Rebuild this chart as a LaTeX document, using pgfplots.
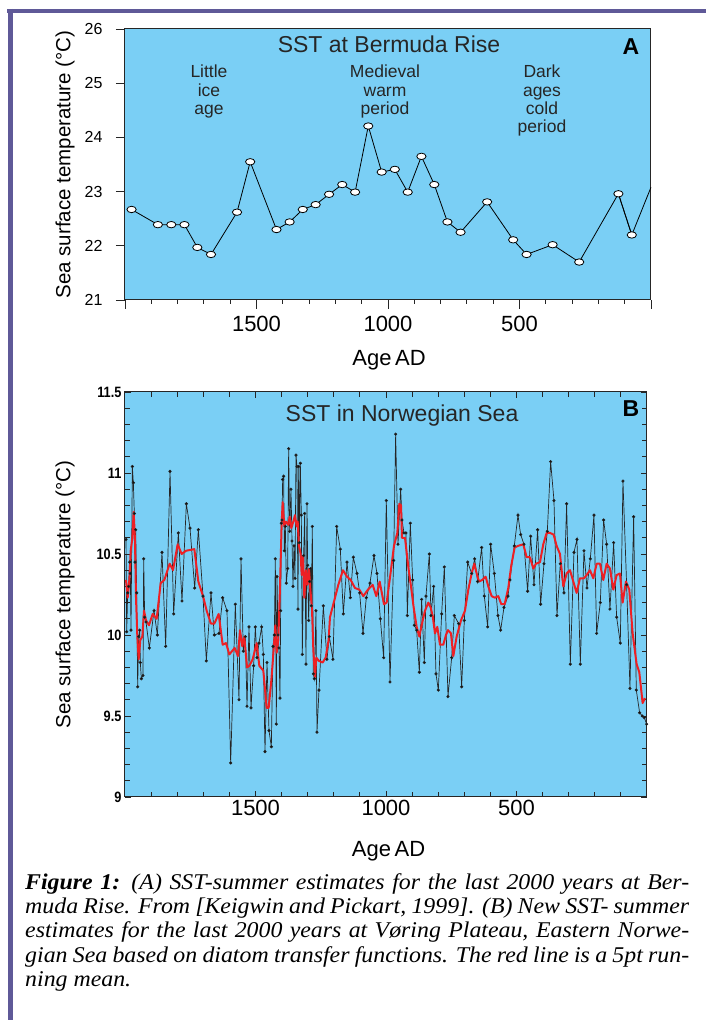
\documentclass[border=0pt]{standalone}
\usepackage{pgfplots}
\pgfplotsset{compat=1.18}
\usepackage{fontspec}
\setmainfont{Liberation Sans}
\newfontfamily\capfont[FakeStretch=1.06]{Liberation Serif}
\newfontfamily\condfont[FakeStretch=0.85]{Liberation Sans}
\definecolor{skyblue}{RGB}{122,207,245}
\definecolor{framepurple}{RGB}{95,89,152}
\definecolor{runred}{RGB}{237,32,36}
\pgfplotsset{/pgf/number format/assume math mode=true, /pgf/number format/1000 sep={}}

\pgfplotstableread{
year sst
1975 22.67
1875 22.39
1824 22.39
1774 22.39
1725 21.97
1673 21.84
1574 22.62
1524 23.55
1424 22.30
1374 22.44
1324 22.67
1275 22.76
1224 22.95
1174 23.13
1125 22.99
1075 24.21
1024 23.36
974 23.41
925 22.99
873 23.65
824 23.13
774 22.44
724 22.25
623 22.81
524 22.11
473 21.84
374 22.02
273 21.70
124 22.96
73 22.20
}\bermuda

\pgfplotstableread{
year sst
1996 10.59
1993.5 10.02
1989.7 10.26
1985.9 10.30
1982.0 10.45
1979.5 10.38
1976.9 10.03
1971.8 11.04
1968.0 10.94
1964.2 10.75
1961.6 10.45
1959.1 10.65
1955.2 10.26
1951.4 9.68
1947.6 9.99
1943.7 10.03
1941.2 9.83
1937.4 9.73
1931.0 9.75
1928.4 10.47
1924.6 10.11
1919.5 10.08
1906.7 9.92
1888.8 10.15
1876.1 10.00
1858.2 10.51
1844.1 9.93
1827.5 11.01
1813.5 10.13
1795.6 10.63
1781.6 10.21
1764.9 10.81
1750.9 10.66
1733.0 10.29
1719.0 10.65
1701.1 10.24
1688.3 9.84
1670.5 10.26
1657.7 10.00
1639.8 10.01
1625.8 10.23
1609.2 10.15
1595.1 9.21
1577.3 10.19
1563.2 9.60
1555.5 10.47
1546.6 9.90
1538.9 9.99
1532.5 9.56
1524.9 10.05
1517.2 9.55
1507.0 9.81
1500.6 10.05
1494.3 9.86
1486.6 9.95
1476.4 10.05
1470.0 9.88
1463.6 9.28
1455.9 9.83
1448.3 9.41
1439.3 9.31
1433.0 9.93
1427.8 10.00
1424.0 10.47
1420.2 9.45
1417.6 10.36
1413.8 10.00
1410.0 9.92
1406.1 9.61
1403.6 10.15
1401.0 10.69
1398.5 10.71
1395.9 10.96
1392.1 10.98
1389.5 10.52
1385.7 10.67
1381.9 10.32
1376.7 10.41
1372.9 11.15
1369.1 10.64
1364.0 10.90
1360.1 10.58
1356.3 10.30
1352.5 10.55
1348.6 10.35
1344.8 11.11
1341.0 11.04
1337.2 10.16
1334.6 11.04
1332.1 10.57
1328.2 11.06
1324.4 10.74
1320.6 9.88
1315.5 10.49
1311.6 10.75
1306.5 9.82
1302.7 10.81
1300.1 10.43
1296.3 10.09
1292.5 10.33
1288.6 10.41
1286.1 10.18
1282.3 10.67
1278.4 9.76
1274.6 9.73
1268.2 10.15
1264.4 9.40
1256.7 9.66
1240.1 10.18
1226.1 9.85
1217.1 9.99
1203.1 9.85
1189.0 10.67
1175.0 10.53
1163.5 10.13
1149.4 10.45
1136.7 10.23
1125.2 10.48
1111.1 10.38
1100.9 10.26
1088.1 10.01
1075.4 10.23
1061.3 10.32
1046.0 10.49
1034.5 10.38
1021.7 10.10
1009.0 9.86
998.8 10.83
984.7 9.71
970.7 10.46
963.0 11.24
954.1 10.56
943.8 10.90
938.7 10.71
931.1 10.63
923.4 10.63
918.3 10.12
906.8 10.69
897.9 10.34
891.5 10.06
882.5 10.03
872.3 9.77
863.4 10.22
853.2 9.83
846.8 10.24
834.0 10.50
827.6 10.12
817.4 10.30
808.5 9.76
799.5 9.66
786.8 10.13
776.5 10.42
762.5 9.62
748.4 9.86
738.2 10.12
721.6 10.07
710.1 9.68
699.9 10.09
687.1 10.45
671.8 10.38
660.3 10.47
648.8 10.33
633.5 10.54
623.3 10.24
610.5 10.05
599.0 10.56
585.0 10.38
570.9 10.12
560.7 10.03
548.0 10.17
532.6 10.24
525.0 10.34
508.4 10.55
494.3 10.74
484.1 10.62
471.3 10.56
457.3 10.27
445.8 10.61
433.0 10.31
419.0 10.65
407.5 10.19
394.7 10.44
381.9 10.64
369.2 11.07
356.4 10.83
344.9 10.12
332.1 10.44
318.1 10.26
307.9 10.81
293.8 9.82
279.8 10.51
268.3 10.59
255.5 9.82
241.5 10.52
230.0 10.29
217.2 10.47
203.2 10.74
192.9 10.01
178.9 10.20
166.1 10.71
154.6 10.56
141.9 10.16
127.8 10.57
116.3 10.11
102.3 9.95
92.1 10.95
78.0 10.31
65.2 9.67
51.2 10.73
41.0 9.66
28.2 9.52
18.0 9.50
10.3 9.49
1.4 9.45
}\norway

\pgfplotstableread{
year sst
1996.1 10.34
1989.7 10.23
1983.3 10.34
1978.2 10.52
1971.8 10.60
1966.7 10.76
1961.6 10.58
1957.8 10.23
1952.7 9.99
1947.6 9.85
1941.2 9.97
1933.5 9.99
1927.1 10.15
1919.5 10.09
1908.0 10.06
1893.9 10.13
1878.6 10.10
1863.3 10.32
1849.2 10.34
1828.8 10.44
1816.0 10.40
1798.2 10.56
1782.9 10.50
1766.2 10.52
1734.3 10.53
1719.0 10.33
1701.1 10.24
1687.1 10.15
1670.5 10.07
1657.7 10.07
1641.1 10.13
1625.8 9.94
1613.0 9.95
1600.2 9.88
1579.8 9.92
1567.0 9.87
1559.4 10.03
1550.4 9.93
1542.8 9.99
1532.5 9.80
1523.6 9.81
1510.8 9.85
1495.5 9.95
1485.3 9.81
1470.0 9.78
1457.2 9.55
1449.5 9.55
1439.3 9.72
1430.4 9.91
1424.0 10.06
1418.9 9.89
1412.5 9.97
1406.1 10.30
1399.7 10.69
1395.9 10.82
1389.5 10.67
1383.1 10.70
1374.2 10.68
1369.1 10.73
1362.7 10.66
1355.0 10.70
1348.6 10.74
1342.3 10.67
1338.4 10.70
1333.3 10.55
1327.0 10.50
1323.1 10.37
1318.0 10.49
1312.9 10.23
1306.5 10.40
1301.4 10.31
1295.0 10.41
1289.9 10.28
1283.5 10.16
1278.4 9.91
1272.1 9.74
1267.0 9.86
1256.7 9.84
1242.7 9.83
1231.2 9.86
1219.7 9.97
1214.6 10.11
1201.8 10.19
1182.6 10.31
1164.8 10.40
1149.4 10.36
1135.4 10.34
1118.8 10.29
1102.2 10.28
1086.9 10.24
1069.0 10.28
1051.1 10.31
1037.1 10.24
1024.3 10.33
1007.7 10.19
997.5 10.20
983.4 10.37
969.4 10.55
956.6 10.63
948.9 10.81
942.5 10.80
938.7 10.60
927.2 10.60
914.5 10.42
904.2 10.30
894.0 10.17
882.5 10.05
872.3 9.99
863.4 10.06
850.6 10.15
837.8 10.20
828.9 10.17
821.2 10.12
812.3 10.01
803.4 10.05
793.1 9.94
780.4 9.94
770.2 10.00
762.5 10.03
751.0 10.01
742.1 9.87
729.3 9.99
712.7 10.09
697.4 10.15
684.6 10.28
671.8 10.38
661.6 10.44
652.7 10.38
643.7 10.33
631.0 10.34
618.2 10.36
608.0 10.30
595.2 10.24
582.4 10.23
569.7 10.24
558.2 10.19
545.4 10.19
531.4 10.29
519.9 10.43
507.1 10.54
494.3 10.55
473.9 10.56
461.1 10.48
448.4 10.48
435.6 10.41
425.4 10.44
410.0 10.45
397.3 10.56
384.5 10.63
371.7 10.63
357.7 10.62
346.2 10.55
333.4 10.50
320.6 10.30
307.9 10.38
295.1 10.40
282.3 10.33
269.6 10.26
256.8 10.35
241.5 10.35
231.3 10.37
218.5 10.40
205.7 10.35
192.9 10.44
180.2 10.44
167.4 10.34
154.6 10.44
141.9 10.41
129.1 10.28
116.3 10.37
103.6 10.38
93.3 10.20
80.6 10.33
67.8 10.28
55.0 10.01
39.7 9.82
29.5 9.77
16.7 9.58
7.8 9.61
}\runmean

\begin{document}
\begin{tikzpicture}[x=1pt,y=1pt]
\useasboundingbox (0,0) rectangle (706,1020);
\fill[white] (0,0) rectangle (706,1020);
% frame
\draw[framepurple, line width=4.5pt] (7,1009) -- (706,1009);
\draw[framepurple, line width=4.5pt] (10.5,1011) -- (10.5,0);

% ---------------- Panel A
\begin{axis}[
  at={(125pt,720pt)}, anchor=south west, scale only axis,
  width=526pt, height=271pt,
  xmin=0, xmax=2000, ymin=21, ymax=26, x dir=reverse,
  axis background/.style={fill=skyblue},
  axis line style={line width=1pt, black!85},
  xtick={0,500,1000,1500,2000}, xticklabels={,500,1000,1500,},
  minor xtick={100,200,...,1900},
  ytick={21,22,...,26},
  tick align=outside, xtick pos=left, ytick pos=left,
  major tick length=9pt, minor tick length=4pt,
  tick style={line width=0.9pt, black!85},
  xticklabel style={font=\fontsize{22}{22}\selectfont, yshift=-4pt},
  yticklabel style={font=\fontsize{16}{16}\selectfont, xshift=-10pt},
  xlabel={Age\,AD},
  xlabel style={font=\fontsize{22}{22}\selectfont, at={(axis description cs:0.502,-0.2435)}, anchor=base},
  ylabel={Sea surface temperature (°C)},
  ylabel style={font=\fontsize{20.5}{20.5}\selectfont, at={(axis description cs:-0.114,0.5)}, anchor=center},
  clip=false,
]
\addplot[black, line width=0.8pt] coordinates {(124,22.96) (73,22.20) (0,23.08)};
\addplot[black, line width=0.8pt, mark=*, mark size=3.2pt, mark options={fill=white, xscale=1.45, line width=0.8pt}] table[x=year,y=sst] {\bermuda};
\end{axis}

% ---------------- Panel B
\begin{axis}[
  at={(125pt,223pt)}, anchor=south west, scale only axis,
  width=522pt, height=405pt,
  xmin=0, xmax=2000, ymin=9, ymax=11.5, x dir=reverse,
  axis background/.style={fill=skyblue},
  axis line style={line width=1pt, black!85},
  xtick={500,1000,1500},
  minor xtick={100,200,...,1900},
  ytick={9,9.5,10,10.5,11,11.5}, yticklabels={9,9.5,10,10.5,11,11.5},
  minor y tick num=4,
  tick align=inside,
  major tick length=6pt, minor tick length=5pt,
  tick style={line width=0.9pt, black!85},
  xticklabel style={font=\fontsize{22}{22}\selectfont},
  yticklabel style={font=\condfont\bfseries\fontsize{15}{15}\selectfont},
  xlabel={Age\,AD},
  xlabel style={font=\fontsize{22}{22}\selectfont, at={(axis description cs:0.505,-0.1457)}, anchor=base},
  ylabel={Sea surface temperature (°C)},
  ylabel style={font=\fontsize{20.5}{20.5}\selectfont, at={(axis description cs:-0.115,0.5)}, anchor=center},
]
\addplot[black!85, line width=0.7pt, mark=*, mark size=1.2pt, mark options={fill=black}] table[x=year,y=sst] {\norway};
\addplot[runred, line width=2pt, line join=round] table[x=year,y=sst] {\runmean};
\end{axis}

% ---------------- Annotations
\node[anchor=base, inner sep=0pt, font=\fontsize{23}{23}\selectfont, text=black!85] at (389,967) {SST at Bermuda Rise};
\node[anchor=base, inner sep=0pt, font=\bfseries\fontsize{23}{23}\selectfont] at (631,965) {A};
\begin{scope}[every node/.style={anchor=north, inner sep=0pt, align=center, font=\fontsize{17.5}{18.3}\selectfont, text=black!85}]
\node at (209,955) {Little\\ice\\age};
\node at (385,955) {Medieval\\warm\\period};
\node at (542,955) {Dark\\ages\\cold\\period};
\end{scope}
\node[anchor=base, inner sep=0pt, font=\fontsize{23}{23}\selectfont, text=black!85] at (402,598) {SST in Norwegian Sea};
\node[anchor=base, inner sep=0pt, font=\bfseries\fontsize{23}{23}\selectfont] at (631,603) {B};

% ---------------- Caption
\begin{scope}[every node/.style={anchor=base west, inner sep=0pt, font=\capfont\itshape\fontsize{22.5}{24}\selectfont}]
\node at (25,130) {\makebox[664pt][s]{\textbf{Figure 1:} (A) SST-summer estimates for the last 2000 years at Ber-}};
\node at (25,106) {\makebox[664pt][s]{muda Rise. From [Keigwin and Pickart, 1999]. (B) New SST- summer}};
\node at (25,82) {\makebox[664pt][s]{estimates for the last 2000 years at Vøring Plateau, Eastern Norwe-}};
\node at (25,57.5) {\makebox[664pt][s]{gian Sea based on diatom transfer functions. The red line is a 5pt run-}};
\node at (25,33) {ning mean.};
\end{scope}
\end{tikzpicture}
\end{document}
